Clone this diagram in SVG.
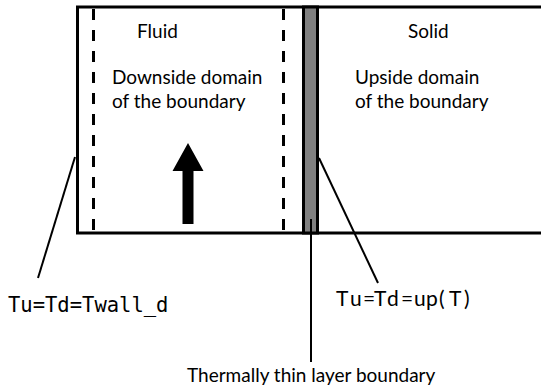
<svg xmlns="http://www.w3.org/2000/svg" width="541" height="389" viewBox="0 0 541 389">
<style>
.ln{stroke:#000;stroke-width:3;fill:none}
.ld{stroke:#000;stroke-width:2;fill:none}
.dash{stroke:#000;stroke-width:3;fill:none;stroke-dasharray:11 10}
.t{font-family:"Lato","Open Sans",sans-serif;font-size:19px;fill:#000}
.m{font-family:"DejaVu Sans Mono","Liberation Mono",monospace;font-size:20.5px;fill:#000}
</style>
<rect width="541" height="389" fill="#fff"/>
<g id="domain">
<path class="ln" d="M541,7 H77.5 V233 H541"/>
<line class="dash" x1="93.5" y1="9" x2="93.5" y2="232"/>
<line class="dash" x1="283.5" y1="9" x2="283.5" y2="232"/>
</g>
<g id="layer">
<rect x="303.5" y="7" width="14" height="226" fill="#808080" stroke="#000" stroke-width="3"/>
</g>
<g id="flow-arrow">
<polygon points="188,143 203.5,171 193.5,171 193.5,224 182.5,224 182.5,171 172.5,171" fill="#000"/>
</g>
<g id="fluid">
<text class="t" x="137" y="38">Fluid</text>
<text class="t" x="112" y="84">Downside domain</text>
<text class="t" x="112" y="108">of the boundary</text>
</g>
<g id="solid">
<text class="t" x="408" y="38">Solid</text>
<text class="t" x="355" y="84">Upside domain</text>
<text class="t" x="355" y="108">of the boundary</text>
</g>
<g id="connectors">
<line class="ld" x1="75" y1="157" x2="38" y2="278"/>
<line class="ld" x1="319" y1="158" x2="378" y2="283"/>
<line class="ld" x1="311" y1="219" x2="311" y2="362"/>
</g>
<g id="label-wall">
<text class="m" x="8" y="312">Tu=Td=Twall_d</text>
</g>
<g id="label-up">
<text class="t" style="font-size:21px" x="336 350 363 374 387 401 414 426 439 449 464" y="306">Tu=Td=up(T)</text>
</g>
<g id="label-thin">
<text class="t" x="187" y="382">Thermally thin layer boundary</text>
</g>
</svg>
